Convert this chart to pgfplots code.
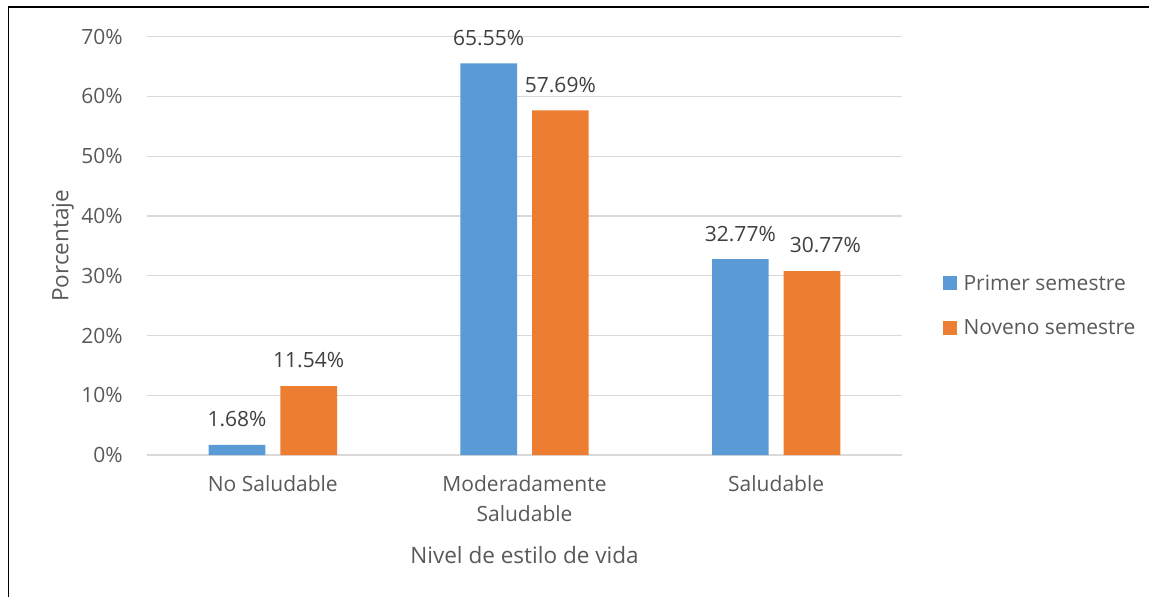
\documentclass[border=0pt]{standalone}
\usepackage{fontspec}
\setmainfont{Open Sans}
\usepackage{pgfplots}
\usepackage{pgfplotstable}
\pgfplotsset{compat=1.18}

\definecolor{serieA}{HTML}{5B9BD5}
\definecolor{serieB}{HTML}{ED7D31}
\definecolor{gridgray}{HTML}{D9D9D9}
\definecolor{textgray}{HTML}{595959}
\definecolor{labelgray}{HTML}{404040}

\newcommand\tickfont{\fontsize{15.75}{22.5}\selectfont}
\newcommand\titlefont{\fontsize{16.9}{20}\selectfont}

% x = category, y = percentage, dx = horizontal nudge of the value label (pt)
\pgfplotstableread{
x y dx
0 1.68 0
1 65.55 0
2 32.77 0
}\primer
\pgfplotstableread{
x y dx
0 11.54 0
1 57.69 0
2 30.77 10
}\noveno

\begin{document}
\begin{tikzpicture}
\path[use as bounding box] (0pt,0pt) rectangle (861.75pt,447pt);
% frame of the chart area
\draw[black, line width=1.3pt] (6.3pt,-4pt) -- (6.3pt,442pt) -- (870pt,442pt);
\begin{axis}[
  at={(110.25pt,105.75pt)}, anchor=south west,
  scale only axis, width=566.25pt, height=313.7pt,
  xmin=-0.5, xmax=2.5, ymin=0, ymax=70,
  ybar=11.25pt, bar width=42.5pt,
  xtick={0,1,2},
  xticklabels={No Saludable,{Moderadamente\\Saludable},Saludable},
  ytick={0,10,...,70},
  yticklabel={\pgfmathprintnumber{\tick}\%},
  /pgf/number format/assume math mode=true,
  axis line style={draw=none},
  major tick length=0pt,
  ymajorgrids, major grid style={color=gridgray, line width=0.9pt},
  tick label style={font=\tickfont, color=textgray},
  xticklabel style={align=center, anchor=north, inner sep=0pt, yshift=-15.5pt},
  yticklabel style={anchor=east, inner sep=0pt, xshift=-18pt},
  xlabel={Nivel de estilo de vida},
  ylabel={Porcentaje},
  label style={font=\titlefont, color=textgray, inner sep=0pt},
  xlabel style={at={(axis description cs:0.5,-0.2183)}, anchor=north},
  ylabel style={at={(axis description cs:-0.0967,0.5)}, anchor=south},
  legend style={draw=none, fill=none, inner sep=0pt, outer sep=0pt,
    at={(axis description cs:1.0547,0.3574)}, anchor=west,
    font=\tickfont, text=textgray, row sep=20.5pt,
    nodes={inner sep=0pt},
    /tikz/every odd column/.append style={column sep=4.7pt}},
  legend cell align=left,
  legend image code/.code={\fill[#1] (0pt,-5.25pt) rectangle (10.5pt,5.25pt);},
  nodes near coords={\pgfmathprintnumber[fixed,fixed zerofill,precision=2]{\pgfplotspointmeta}\%},
  every node near coord/.append style={font=\tickfont, color=labelgray, inner sep=0pt,
    anchor=south, yshift=13.2pt},
]
\addplot[fill=serieA, draw=none] table[x=x, y=y] {\primer};
\addlegendentry{Primer semestre}
\addplot[fill=serieB, draw=none,
  visualization depends on={\thisrow{dx} \as \labeldx},
  nodes near coords style={xshift=\labeldx pt}] table[x=x, y=y] {\noveno};
\addlegendentry{Noveno semestre}
\end{axis}
\end{tikzpicture}
\end{document}
